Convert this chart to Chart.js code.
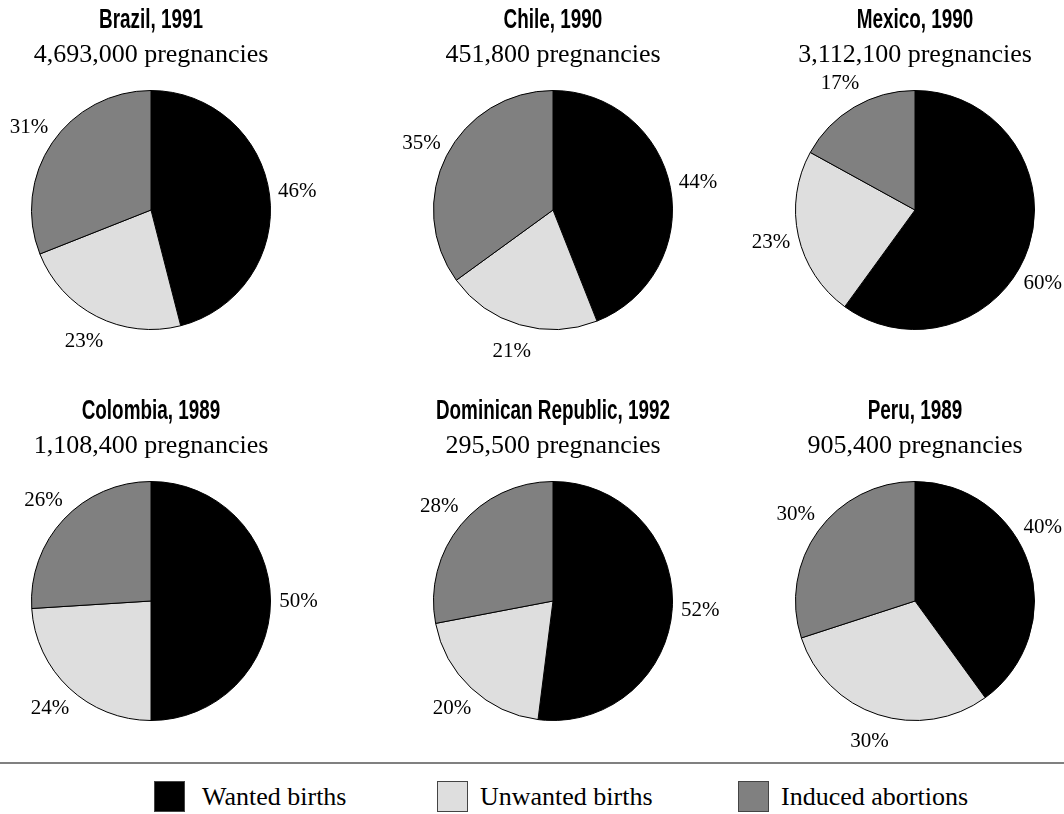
<!DOCTYPE html>
<html>
<head>
<meta charset="utf-8">
<script src="https://cdn.jsdelivr.net/npm/chart.js@4.4.1/dist/chart.umd.min.js"></script>
<style>
  html, body { margin: 0; padding: 0; background: #fff; }
  body { width: 1064px; height: 814px; position: relative; overflow: hidden; }
  .pie { position: absolute; height: 370px; }
  .rule { position: absolute; left: 0; top: 762px; width: 1064px; height: 2px; background: #808080; }
  .item { position: absolute; top: 781px; height: 31px;
          font-family: "Liberation Serif", "Times New Roman", serif; font-size: 26px; color: #000; }
  .swatch { width: 29px; height: 29px; border: 1px solid #444; }
  .item span { position: absolute; top: 0; line-height: 31px; white-space: nowrap; }
</style>
</head>
<body>
<div id="charts"></div>
<div class="rule"></div>
<div class="item" style="left:154px"><div class="swatch" style="background:#000"></div><span style="left:48px">Wanted births</span></div>
<div class="item" style="left:437px"><div class="swatch" style="background:#dedede"></div><span style="left:43px">Unwanted births</span></div>
<div class="item" style="left:738px"><div class="swatch" style="background:#808080"></div><span style="left:43px">Induced abortions</span></div>

<script>
// data
var countries = ['Brazil, 1991', 'Chile, 1990', 'Mexico, 1990', 'Colombia, 1989', 'Dominican Republic, 1992', 'Peru, 1989'];
var pregnancies = ['4,693,000 pregnancies', '451,800 pregnancies', '3,112,100 pregnancies',
                   '1,108,400 pregnancies', '295,500 pregnancies', '905,400 pregnancies'];
var categories = ['Wanted births', 'Unwanted births', 'Induced abortions'];
var wanted    = [46, 44, 60, 50, 52, 40];
var unwanted  = [23, 21, 23, 24, 20, 30];
var abortions = [31, 35, 17, 26, 28, 30];

var sliceColors = ['#000000', '#dedede', '#808080'];
var colCenters = [151, 553, 915];
var rowTops = [0, 391];
var pageWidth = 1064;

// condensed bold title + serif subtitle (no narrow font installed, so squeeze it)
var pieTitles = {
	id: 'pieTitles',
	afterDraw: function(chart, args, opts){
		var ctx = chart.ctx;
		var cx = chart.getDatasetMeta(0).data[0].x;
		ctx.save();
		ctx.fillStyle = '#000';
		ctx.textAlign = 'center';
		ctx.textBaseline = 'middle';
		ctx.translate(cx, 21);
		ctx.scale(0.7, 1);
		ctx.font = 'bold 27px "Liberation Sans", Arial, sans-serif';
		ctx.fillText(opts.title, 0, 0);
		ctx.restore();

		ctx.save();
		ctx.fillStyle = '#000';
		ctx.textAlign = 'center';
		ctx.textBaseline = 'middle';
		ctx.font = '26px "Liberation Serif", "Times New Roman", serif';
		ctx.fillText(opts.subtitle, cx, 55);
		ctx.restore();
	}
};

// percent labels just outside each slice; if one would leave the canvas,
// slide it round the same circle instead
var outsideLabels = {
	id: 'outsideLabels',
	afterDatasetsDraw: function(chart){
		var ctx = chart.ctx;
		var meta = chart.getDatasetMeta(0);
		var values = chart.data.datasets[0].data;
		ctx.save();
		ctx.font = '21px "Liberation Serif", "Times New Roman", serif';
		ctx.fillStyle = '#000';
		ctx.textAlign = 'center';
		ctx.textBaseline = 'middle';
		meta.data.forEach(function(arc, i){
			var p = arc.getProps(['x', 'y', 'startAngle', 'endAngle', 'outerRadius'], true);
			var a = (p.startAngle + p.endAngle) / 2;
			var r = p.outerRadius + 28;
			var txt = values[i] + '%';
			var hw = ctx.measureText(txt).width / 2;
			var x = p.x + Math.cos(a) * r;
			var y = p.y + Math.sin(a) * r;
			var cx = Math.min(Math.max(x, hw + 2), chart.width - hw - 2);
			if(cx != x){
				var dx = cx - p.x;
				y = p.y + (Math.sin(a) < 0 ? -1 : 1) * Math.sqrt(Math.max(r * r - dx * dx, 0));
				x = cx;
			}
			ctx.fillText(txt, x, y);
		});
		ctx.restore();
	}
};

var holder = document.getElementById('charts');

countries.forEach(function(name, i){
	var cx = colCenters[i % 3];
	var left = Math.max(0, cx - 170);
	var right = Math.min(pageWidth, cx + 170);
	var half = Math.min(cx - left, right - cx);

	var box = document.createElement('div');
	box.className = 'pie';
	box.style.left = left + 'px';
	box.style.width = (right - left) + 'px';
	box.style.top = rowTops[Math.floor(i / 3)] + 'px';
	var canvas = document.createElement('canvas');
	box.appendChild(canvas);
	holder.appendChild(box);

	new Chart(canvas.getContext('2d'), {
		type: 'pie',
		data: {
			labels: categories,
			datasets: [{
				data: [wanted[i], unwanted[i], abortions[i]],
				backgroundColor: sliceColors,
				borderColor: '#000',
				borderWidth: 1
			}]
		},
		options: {
			responsive: true,
			maintainAspectRatio: false,
			animation: false,
			layout: { padding: { top: 90, bottom: 40, left: (cx - left) - half, right: (right - cx) - half } },
			plugins: {
				legend: { display: false },
				tooltip: { enabled: false },
				pieTitles: { title: name, subtitle: pregnancies[i] }
			}
		},
		plugins: [pieTitles, outsideLabels]
	});
});
</script>
</body>
</html>
